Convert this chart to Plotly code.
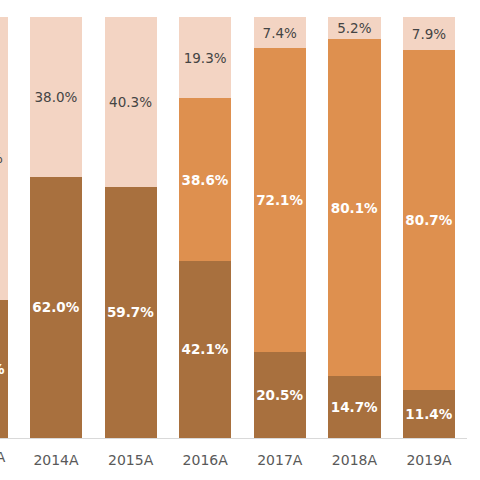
import plotly.graph_objects as go

years = ['2013A', '2014A', '2015A', '2016A', '2017A', '2018A', '2019A']
dark_share = [32.8, 62.0, 59.7, 42.1, 20.5, 14.7, 11.4]
mid_share = [None, None, None, 38.6, 72.1, 80.1, 80.7]
light_share = [67.2, 38.0, 40.3, 19.3, 7.4, 5.2, 7.9]

xpos = list(range(len(years)))
# the picture is a crop: the first bar sits half off the left edge
xrange = [0.2493, 6.509]

font_name = 'DejaVu Sans'
bar_w = 0.70
lbl_size = 13.5

fig = go.Figure()
fig.add_trace(go.Bar(x=xpos, y=dark_share, width=bar_w, marker_color='#A8703E',
                     marker_line_width=0,
                     texttemplate='%{y:.1f}%', textposition='inside', insidetextanchor='middle',
                     textangle=0, constraintext='none',
                     textfont=dict(family=font_name, size=lbl_size, color='white', weight='bold')))
fig.add_trace(go.Bar(x=xpos, y=mid_share, width=bar_w, marker_color='#DE904F',
                     marker_line_width=0,
                     texttemplate='%{y:.1f}%', textposition='inside', insidetextanchor='middle',
                     textangle=0, constraintext='none',
                     textfont=dict(family=font_name, size=lbl_size, color='white', weight='bold')))
fig.add_trace(go.Bar(x=xpos, y=light_share, width=bar_w, marker_color='#F3D4C3',
                     marker_line_width=0,
                     texttemplate='%{y:.1f}%', textposition='inside', insidetextanchor='middle',
                     textangle=0, constraintext='none',
                     textfont=dict(family=font_name, size=lbl_size, color='#444444')))

fig.update_layout(
    barmode='stack',
    width=480, height=480,
    margin=dict(l=0, r=13, t=17, b=42),
    plot_bgcolor='white', paper_bgcolor='white',
    showlegend=False,
    font=dict(family=font_name, size=14, color='#595959'),
)
fig.update_xaxes(range=xrange, tickvals=xpos, ticktext=years, ticks='',
                 showgrid=False, zeroline=False,
                 showline=True, linecolor='#D9D9D9', linewidth=1,
                 tickfont=dict(family=font_name, size=14, color='#595959'),
                 ticklabelstandoff=9)
fig.update_yaxes(range=[0, 100], visible=False, showgrid=False, zeroline=False)

# the 2013A tick lies outside the axis range, so place its label by hand;
# plotly nudges off-paper annotations inward, hence the extra shift
span = xrange[1] - xrange[0]
fig.add_annotation(x=(xpos[0] - xrange[0]) / span, xref='paper', y=0, yref='paper',
                   yanchor='top', yshift=-9, xshift=-23, text=years[0], showarrow=False,
                   font=dict(family=font_name, size=14, color='#595959'))

# drop the page's default body margin so the figure sits at the top-left corner
fig.write_html('out.html', config={'displayModeBar': False},
               post_script="document.body.style.margin='0';")
